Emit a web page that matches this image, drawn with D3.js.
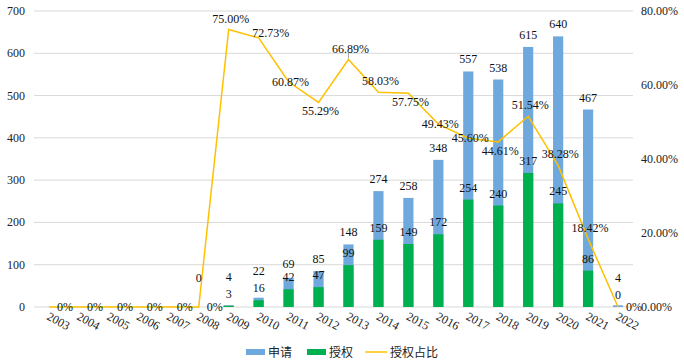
<!DOCTYPE html>
<html>
<head>
<meta charset="utf-8">
<script src="https://cdn.jsdelivr.net/npm/d3@7"></script>
<style>
  body { margin: 0; background: #fff; }
</style>
</head>
<body>
<div id="vis"></div>
<script>
// Chart data
const years = ['2003','2004','2005','2006','2007','2008','2009','2010','2011','2012',
               '2013','2014','2015','2016','2017','2018','2019','2020','2021','2022']
const applied = [0,0,0,0,0,0,4,22,69,85,148,274,258,348,557,538,615,640,467,4]
const granted = [0,0,0,0,0,0,3,16,42,47,99,159,149,172,254,240,317,245,86,0]
const ratio = [0,0,0,0,0,0,75.00,72.73,60.87,55.29,66.89,58.03,57.75,49.43,45.60,44.61,51.54,38.28,18.42,0]
// which years show bar labels (2003-2007 had no data)
const showBarLabel = [false,false,false,false,false,true,true,true,true,true,
                      true,true,true,true,true,true,true,true,true,true]
// where each ratio label sits relative to its point
const ratioLabelSide = ['r','r','r','r','r','r','t','tr','c','b','t','t','b','c','c','b','t','t','t','r']
const leftTicks = [0,100,200,300,400,500,600,700]
const rightTicks = [0,0.2,0.4,0.6,0.8]

const W = 684, H = 362
const serif = '"Liberation Serif", "DejaVu Serif", "Times New Roman", serif'

const svg = d3.select('#vis').append('svg')
    .attr('width', W).attr('height', H)
    .attr('font-family', serif)

svg.append('rect').attr('width', W).attr('height', H).attr('fill', '#fff')

const x = d3.scaleBand()
    .domain(years)
    .range([34, 633])
    .paddingInner(0.66)
    .paddingOuter(0.33)

const y = d3.scaleLinear().domain([0, 700]).range([307, 11])
const yR = d3.scaleLinear().domain([0, 0.8]).range([307, 11])

const cx = d => x(d) + x.bandwidth() / 2

// gridlines
svg.append('g')
    .selectAll('line')
    .data(leftTicks)
    .enter().append('line')
    .attr('x1', 34).attr('x2', 633)
    .attr('y1', d => y(d)).attr('y2', d => y(d))
    .attr('stroke', '#d9d9d9').attr('stroke-width', 1)

// left axis labels
svg.append('g')
    .selectAll('text')
    .data(leftTicks)
    .enter().append('text')
    .attr('x', 25).attr('y', d => y(d) + 4)
    .attr('text-anchor', 'end')
    .attr('font-size', 12)
    .attr('fill', '#222')
    .text(d => d)

// right axis labels
svg.append('g')
    .selectAll('text')
    .data(rightTicks)
    .enter().append('text')
    .attr('x', 641).attr('y', d => yR(d) + 4)
    .attr('font-size', 12)
    .attr('fill', '#222')
    .text(d => d3.format('.2f')(d * 100) + '%')

// x axis labels (rotated)
svg.append('g')
    .selectAll('text')
    .data(years)
    .enter().append('text')
    .attr('transform', d => `translate(${cx(d) - 3},${319}) rotate(28)`)
    .attr('font-size', 12)
    .attr('fill', '#222')
    .text(d => d)

// applications bars (behind)
svg.append('g')
    .selectAll('rect')
    .data(years)
    .enter().append('rect')
    .attr('x', d => x(d))
    .attr('width', x.bandwidth())
    .attr('y', (d, i) => y(applied[i]))
    .attr('height', (d, i) => y(0) - y(applied[i]))
    .attr('fill', '#6fa8dc')

// granted bars (front)
svg.append('g')
    .selectAll('rect')
    .data(years)
    .enter().append('rect')
    .attr('x', d => x(d))
    .attr('width', x.bandwidth())
    .attr('y', (d, i) => y(granted[i]))
    .attr('height', (d, i) => y(0) - y(granted[i]))
    .attr('fill', '#00b050')

// ratio line
const line = d3.line()
    .x((d, i) => cx(years[i]))
    .y(d => yR(d / 100))

svg.append('path')
    .datum(ratio)
    .attr('d', line)
    .attr('fill', 'none')
    .attr('stroke', '#ffc000')
    .attr('stroke-width', 1.5)

// bar labels
const labels = svg.append('g').attr('font-size', 12).attr('fill', '#111')
years.forEach(function(yr, i) {
    if (!showBarLabel[i]) return
    let gy = y(granted[i]) - 8
    let ay = y(applied[i]) - 8
    if (Math.abs(ay - gy) < 8) ay = gy - 17
    else if (gy - ay < 13) ay = gy - 13
    labels.append('text').attr('x', cx(yr)).attr('y', ay).attr('text-anchor', 'middle').text(applied[i])
    if (i === 5) return
    labels.append('text').attr('x', cx(yr)).attr('y', gy).attr('text-anchor', 'middle').text(granted[i])
})

// ratio labels
years.forEach(function(yr, i) {
    const px = cx(yr), py = yR(ratio[i] / 100)
    const txt = ratio[i] === 0 ? '0%' : d3.format('.2f')(ratio[i]) + '%'
    let tx = px + 2, cy = py, anchor = 'middle'
    const side = ratioLabelSide[i]
    if (side === 'r') { tx = px + 8; anchor = 'start' }
    if (side === 't') { cy = py - 11 }
    if (side === 'b') { cy = py + 9 }
    if (side === 'tr') { tx = px + 12; cy = py - 5 }
    labels.append('text').attr('x', tx).attr('y', cy + 4).attr('text-anchor', anchor).text(txt)
    if (i === 10) {
        labels.append('line').attr('x1', px).attr('x2', px).attr('y1', py - 7).attr('y2', py - 1)
            .attr('stroke', '#a6a6a6').attr('stroke-width', 1)
    }
})

// legend
const cjk = '"Noto Sans CJK SC", sans-serif'
const legend = svg.append('g').attr('font-size', 12).attr('fill', '#222')
legend.append('rect').attr('x', 246).attr('y', 349).attr('width', 19).attr('height', 6).attr('fill', '#6fa8dc')
legend.append('text').attr('x', 268).attr('y', 357).attr('font-family', cjk).text('申请')
legend.append('rect').attr('x', 307).attr('y', 349).attr('width', 19).attr('height', 6).attr('fill', '#00b050')
legend.append('text').attr('x', 329).attr('y', 357).attr('font-family', cjk).text('授权')
legend.append('line').attr('x1', 365).attr('x2', 387).attr('y1', 352).attr('y2', 352).attr('stroke', '#ffc000').attr('stroke-width', 1.5)
legend.append('text').attr('x', 390).attr('y', 357).attr('font-family', cjk).text('授权占比')
</script>
</body>
</html>
